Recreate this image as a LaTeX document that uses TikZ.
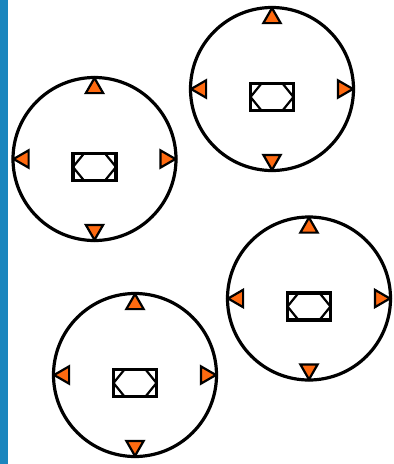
\documentclass[tikz,border=0pt]{standalone}
\usetikzlibrary{shapes.geometric}
\definecolor{cbar}{HTML}{1A86BE}
\definecolor{corange}{HTML}{FF6A10}
\tikzset{
  disc/.style={circle, draw=black, fill=white, line width=3.2pt, minimum size=163pt, inner sep=0pt},
  pad/.style={rectangle, draw=black, line width=3.2pt, minimum width=43pt, minimum height=27pt, inner sep=0pt, outer sep=0pt},
  hexline/.style={draw=black, line width=2.2pt},
  tri/.style={regular polygon, regular polygon sides=3, draw=black, fill=corange, line width=2.2pt, minimum size=20pt, inner sep=0pt, anchor=corner 1},
}
\begin{document}
\begin{tikzpicture}[x=1pt, y=-1pt]
  \useasboundingbox (0,0) rectangle (394,464);
  % side bar
  \fill[cbar] (0,0) rectangle (8,464);
  % four units
  \foreach \n/\x/\y in {a/94.5/159, b/272/89, c/309/298.5, d/135/375} {
    \node[disc] (\n) at (\x,\y) {};
    \node[tri] (\n-up) at (\n.north) {};
    \node[tri, rotate=90] (\n-left) at (\n.west) {};
    \node[tri, rotate=180] (\n-down) at (\n.south) {};
    \node[tri, rotate=-90] (\n-right) at (\n.east) {};
    \node[pad] (\n-box) at (\x,\y+8) {};
    \draw[hexline] (\n-box.west) -- ([xshift=11pt]\n-box.north west) -- ([xshift=-11pt]\n-box.north east)
      -- (\n-box.east) -- ([xshift=-11pt]\n-box.south east) -- ([xshift=11pt]\n-box.south west) -- cycle;
  }
\end{tikzpicture}
\end{document}
